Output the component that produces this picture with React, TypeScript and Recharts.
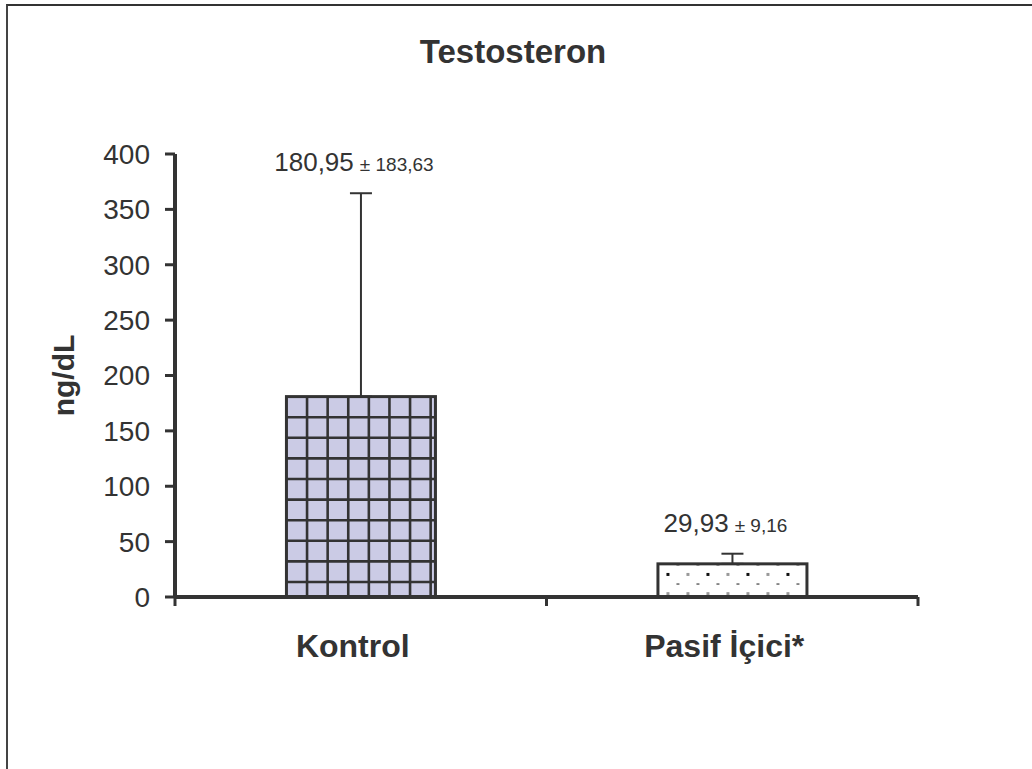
import React from 'react';
import { BarChart, Bar, XAxis, YAxis, ErrorBar, LabelList, Label } from 'recharts';

const categories = ['Kontrol', 'Pasif İçici*'];
const means = [180.95, 29.93];
const sds = [183.63, 9.16];
const meanLabels = ['180,95', '29,93'];
const sdLabels = ['± 183,63', '± 9,16'];
const yTicks = [0, 50, 100, 150, 200, 250, 300, 350, 400];
const titleText = 'Testosteron';
const yTitle = 'ng/dL';

const data = categories.map((name, i) => ({ name, mean: means[i], err: [0, sds[i]] }));

const FONT = '"Liberation Sans", Arial, Helvetica, sans-serif';
const INK = '#333333';

const GridBar = ({ x, y, width, height }: any) => {
  const cell = 20.6;
  const vs: number[] = [];
  for (let cx = x + cell; cx < x + width - 2; cx += cell) vs.push(cx);
  const hs: number[] = [];
  for (let cy = y + cell; cy < y + height - 2; cy += cell) hs.push(cy);
  return (
    <g>
      <rect x={x} y={y} width={width} height={height} fill="#CBCBE5" />
      {vs.map((cx, i) => (
        <line key={'v' + i} x1={cx} x2={cx} y1={y} y2={y + height} stroke={INK} strokeWidth={2.6} />
      ))}
      {hs.map((cy, i) => (
        <line key={'h' + i} x1={x} x2={x + width} y1={cy} y2={cy} stroke={INK} strokeWidth={2.6} />
      ))}
      <rect x={x} y={y} width={width} height={height} fill="none" stroke={INK} strokeWidth={3} />
    </g>
  );
};

const DotBar = ({ x, y, width, height }: any) => {
  const dots: React.ReactNode[] = [];
  let r = 0;
  for (let cy = y + 1; cy < y + height - 1; cy += 9.6) {
    const start = r % 2 === 0 ? 20 : 10;
    let j = 0;
    for (let cx = x + start; cx < x + width - 4; cx += 20) {
      let fill = '#aaa';
      let w = 2;
      let h = 2;
      if (r % 4 === 1) {
        fill = j % 2 === 0 ? '#111' : '#999';
        w = 3;
        h = 3;
      } else if (r % 4 === 3) {
        fill = '#999';
        w = 3;
        h = 3;
      } else {
        fill = '#666';
        w = 3;
        h = 1.5;
      }
      dots.push(<rect key={r + '-' + j} x={cx - w / 2} y={cy - h / 2} width={w} height={h} fill={fill} />);
      j++;
    }
    r++;
  }
  return (
    <g>
      <rect x={x} y={y} width={width} height={height} fill="#ffffff" />
      {dots}
      <rect x={x} y={y} width={width} height={height} fill="none" stroke={INK} strokeWidth={3} />
    </g>
  );
};

const BarShape = (props: any) => (props.index === 0 ? <GridBar {...props} /> : <DotBar {...props} />);

const renderValueLabel = (props: any) => {
  const { x, y, width, height, index } = props;
  const nx = Number(x), ny = Number(y), nw = Number(width), nh = Number(height);
  const top = ny - (sds[index] * nh) / means[index];
  return (
    <text x={nx + nw / 2 - 7} y={top - 22} textAnchor="middle" fill={INK} fontFamily={FONT}>
      <tspan fontSize={26}>{meanLabels[index]}</tspan>
      <tspan fontSize={19} dx={6}>{sdLabels[index]}</tspan>
    </text>
  );
};

const XTick = (props: any) => {
  const { x, y, payload, index, visibleTicksCount } = props;
  const off = payload && payload.offset ? payload.offset : 0;
  const last = index === (visibleTicksCount ?? categories.length) - 1;
  return (
    <g>
      <line x1={x - off} x2={x - off} y1={y - 9} y2={y} stroke={INK} strokeWidth={3} />
      {last && <line x1={x + off} x2={x + off} y1={y - 9} y2={y} stroke={INK} strokeWidth={3} />}
      <text x={x - 8} y={y + 51} textAnchor="middle" fill={INK} fontFamily={FONT} fontWeight="bold" fontSize={32}>
        {payload.value}
      </text>
    </g>
  );
};

export default function App() {
  return (
    <div style={{ position: 'absolute', left: 0, top: 0, width: 1032, height: 769, background: '#fff', overflow: 'hidden' }}>
      <div
        style={{
          position: 'absolute',
          left: 6,
          top: 4,
          right: -10,
          bottom: -10,
          borderTop: '2px solid #333',
          borderLeft: '2px solid #444',
        }}
      />
      <div
        style={{
          position: 'absolute',
          left: 0,
          top: 33,
          width: 1026,
          textAlign: 'center',
          fontFamily: FONT,
          fontWeight: 'bold',
          fontSize: 33,
          color: INK,
          lineHeight: '38px',
        }}
      >
        {titleText}
      </div>
      <div style={{ position: 'absolute', left: 0, top: 0 }}>
        <BarChart
          width={1032}
          height={769}
          data={data}
          margin={{ top: 154, right: 114, bottom: 112, left: 95 }}
          barCategoryGap="30%"
        >
          <XAxis
            dataKey="name"
            axisLine={{ stroke: INK, strokeWidth: 4 }}
            tickLine={false}
            tickSize={9}
            tickMargin={0}
            height={60}
            interval={0}
            tick={<XTick />}
          />
          <YAxis
            type="number"
            domain={[0, 400]}
            ticks={yTicks}
            interval={0}
            width={80}
            axisLine={{ stroke: INK, strokeWidth: 4 }}
            tickLine={{ stroke: INK, strokeWidth: 3 }}
            tickSize={10}
            tickMargin={15}
            tick={{ fill: INK, fontSize: 28, fontFamily: FONT }}
          >
            <Label
              content={({ viewBox }: any) => {
                const cx = viewBox.x - 32;
                const cy = viewBox.y + viewBox.height / 2;
                return (
                  <text
                    x={cx}
                    y={cy}
                    transform={`rotate(-90 ${cx} ${cy})`}
                    textAnchor="middle"
                    dominantBaseline="central"
                    fill={INK}
                    fontFamily={FONT}
                    fontWeight="bold"
                    fontSize={30}
                  >
                    {yTitle}
                  </text>
                );
              }}
            />
          </YAxis>
          <Bar dataKey="mean" isAnimationActive={false} shape={BarShape}>
            <ErrorBar dataKey="err" direction="y" width={11} stroke={INK} strokeWidth={2} />
            <LabelList dataKey="mean" content={renderValueLabel} />
          </Bar>
        </BarChart>
      </div>
    </div>
  );
}
